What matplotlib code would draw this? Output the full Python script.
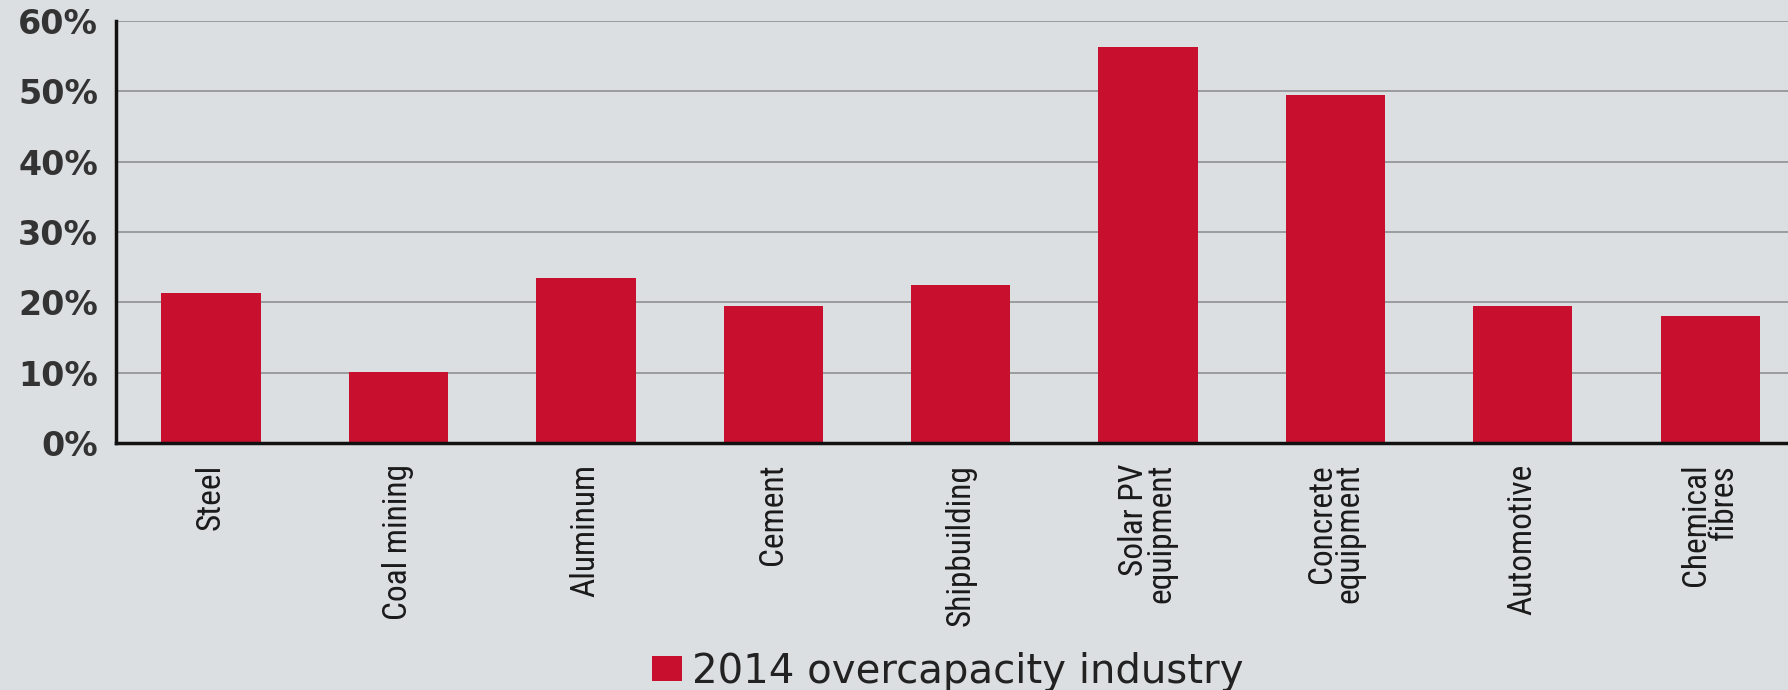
import numpy as np
import matplotlib
matplotlib.use("Agg")
import matplotlib.pyplot as plt
from matplotlib.patches import Patch

# data
industries = ["Steel", "Coal mining", "Aluminum", "Cement", "Shipbuilding",
              "Solar PV\nequipment", "Concrete\nequipment", "Automotive",
              "Chemical\nfibres"]
overcapacity = [21.3, 10.1, 23.4, 19.5, 22.4, 56.3, 49.5, 19.5, 18.1]
yticks = [0, 10, 20, 30, 40, 50, 60]
series_name = "2014 overcapacity industry"

bg = "#dcdfe2"
red = "#c8102e"


def main():
    fig = plt.figure(figsize=(17.88, 6.9), dpi=100, facecolor=bg)
    ax = fig.add_axes([0.0649, 0.358, 1 - 0.0649, 0.9696 - 0.358])
    ax.set_facecolor(bg)

    x = np.arange(len(industries))
    ax.bar(x, overcapacity, width=0.53, color=red, zorder=3)

    # grid and axes styling
    ax.set_ylim(0, 60)
    ax.set_xlim(-0.507, 8.415)
    ax.set_yticks(yticks)
    ax.set_yticklabels([f"{t}%" for t in yticks], fontsize=24,
                       fontweight="bold", color="#333333")
    ax.yaxis.grid(True, color="#9a9c9e", linewidth=1.4, zorder=0)
    ax.tick_params(axis="both", length=0)
    ax.tick_params(axis="y", pad=13)
    for side in ["top", "right"]:
        ax.spines[side].set_visible(False)
    for side in ["left", "bottom"]:
        ax.spines[side].set_linewidth(2.5)
        ax.spines[side].set_color("#111111")
        ax.spines[side].set_zorder(4)

    # condensed labels, right aligned so both lines end at the top
    ax.set_xticks(x)
    ax.set_xticklabels(industries, rotation=90, fontsize=24, color="#1a1a1a",
                       family=["Roboto Condensed", "Liberation Sans"],
                       ha="center", va="top", multialignment="right",
                       linespacing=0.82)
    ax.tick_params(axis="x", pad=15)

    # legend below the axes
    handle = Patch(facecolor=red, edgecolor="none")
    fig.legend([handle], [series_name], loc="lower center",
               bbox_to_anchor=(0.53, -0.055), frameon=False, fontsize=29,
               handlelength=0.75, handleheight=0.55, handletextpad=0.25,
               labelcolor="#222222")

    fig.savefig("out.png", dpi=100, facecolor=bg)


if __name__ == '__main__':
    main()
